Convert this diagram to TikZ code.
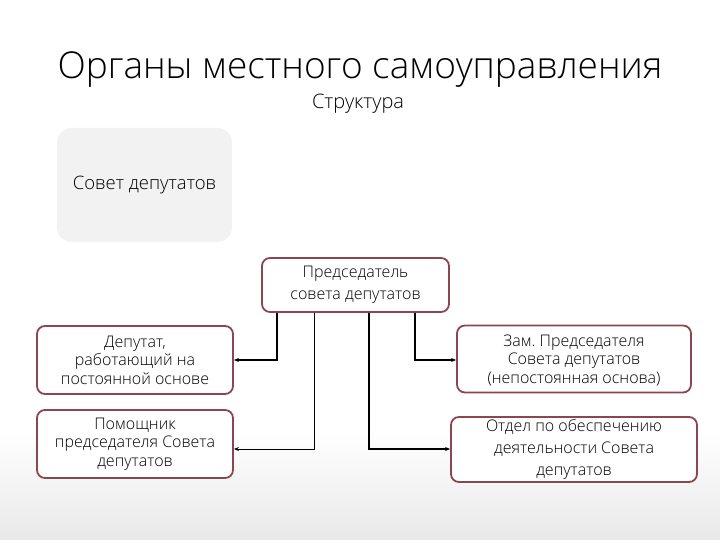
\documentclass[tikz,border=0pt]{standalone}
\usepackage{fontspec}
\setmainfont{Open Sans}
\newfontfamily\titlefont{Open Sans Light}
\frenchspacing
\usetikzlibrary{arrows.meta}
\definecolor{bord}{HTML}{8C4650}
\definecolor{greybox}{HTML}{F2F2F2}
\definecolor{bgbot}{HTML}{E8E8E8}
\tikzset{
  unit/.style={draw=bord, line width=1.8pt, rounded corners=8pt, fill=white, inner sep=0pt, align=center, font=\titlefont\fontsize{16}{18.5}\selectfont},
  wide/.style={font=\titlefont\fontsize{16}{22}\selectfont},
  conn/.style={line width=1.8pt, -{Stealth[length=5pt,width=4pt]}},
  thinconn/.style={line width=0.9pt, -{Stealth[length=5pt,width=4pt]}}
}
\begin{document}
\begin{tikzpicture}[x=1pt,y=-1pt]
\useasboundingbox (0,0) rectangle (720,540);
\fill[white] (0,0) rectangle (720,430);
\shade[top color=white, bottom color=bgbot] (0,430) rectangle (720,540);
\node (title) at (360,70) {\titlefont\fontsize{37}{40}\selectfont Органы местного самоуправления};
\node (sub) at (358,104) {\titlefont\fontsize{20}{22}\selectfont Структура};
\node[fill=greybox, rounded corners=15pt, minimum width=175pt, minimum height=114pt, font=\titlefont\fontsize{18.5}{20}\selectfont] (sovet) at (144.5,185) {Совет депутатов};
\node[unit, wide, minimum width=187pt, minimum height=54pt] (pred) at (355.5,285) {Председатель\\совета депутатов};
\node[unit, minimum width=196pt, minimum height=68pt] (dep) at (135,360) {Депутат,\\работающий на\\постоянной основе};
\node[unit, minimum width=196pt, minimum height=68pt] (pom) at (135,444) {Помощник\\председателя Совета\\депутатов};
\node[unit, minimum width=234pt, minimum height=67pt, text depth=0pt] (zam) at (574,359) {Зам. Председателя\\Совета депутатов\\(непостоянная основа)};
\node[unit, wide, minimum width=246pt, minimum height=65pt] (otd) at (574,449.5) {Отдел по обеспечению\\деятельности Совета\\депутатов};
\coordinate (c1) at (277,360);
\coordinate (c2) at (314,449);
\coordinate (c3) at (369,449);
\coordinate (c4) at (415,360);
\draw[conn] (pred.south -| c1) |- (dep.east |- c1);
\draw[thinconn] (pred.south -| c2) |- (pom.east |- c2);
\draw[conn] (pred.south -| c3) |- (otd.west |- c3);
\draw[conn] (pred.south -| c4) |- (zam.west |- c4);
\end{tikzpicture}
\end{document}
